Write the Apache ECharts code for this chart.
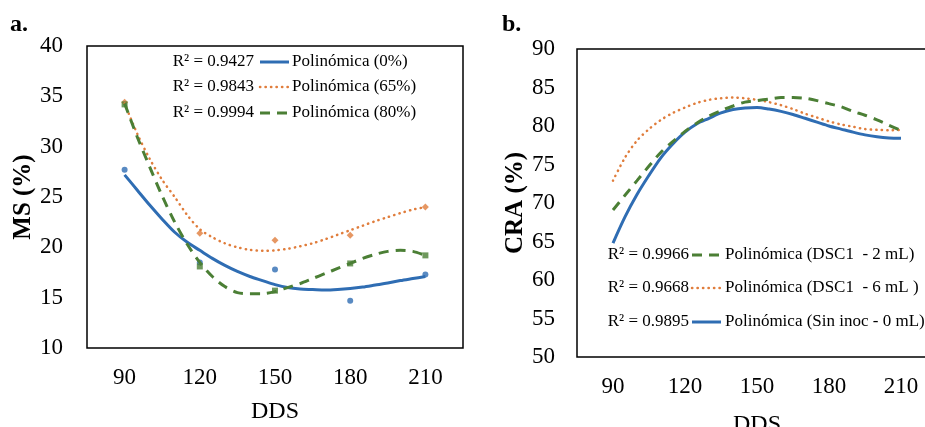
<!DOCTYPE html>
<html>
<head>
<meta charset="utf-8">
<script src="https://cdn.jsdelivr.net/npm/echarts@6/dist/echarts.min.js"></script>
<style>
  html, body { margin: 0; padding: 0; background: #fff; }
  #chart { width: 925px; height: 427px; }
</style>
</head>
<body>
<div id="chart"></div>
<script>
// tick labels
const xTicks = [90, 120, 150, 180, 210];

// a. MS (%) observed points
const dds = [90, 120, 150, 180, 210];
const ms0Obs = [27.7, 18.5, 17.8, 14.7, 17.3];
const ms65Obs = [34.4, 21.4, 20.7, 21.2, 24.0];
const ms80Obs = [34.2, 18.1, 15.7, 18.4, 19.2];

// trend curves, every 5 DDS
const fitX = [90, 95, 100, 105, 110, 115, 120, 125, 130, 135, 140, 145, 150,
  155, 160, 165, 170, 175, 180, 185, 190, 195, 200, 205, 210];
const ms0Fit = [27.2, 25.7, 24.2, 22.8, 21.5, 20.5, 19.7, 18.9, 18.2, 17.6, 17.1, 16.7, 16.3,
  16.0, 15.85, 15.8, 15.75, 15.8, 15.9, 16.05, 16.25, 16.45, 16.7, 16.9, 17.1];
const ms65Fit = [34.3, 31.3, 28.8, 26.7, 25.0, 23.2, 21.8, 21.0, 20.4, 20.0, 19.75, 19.65, 19.7,
  19.85, 20.1, 20.4, 20.8, 21.25, 21.7, 22.15, 22.6, 23.0, 23.4, 23.75, 24.0];
const ms80Fit = [34.3, 31.0, 28.0, 25.1, 22.5, 20.3, 18.5, 17.1, 16.1, 15.5, 15.4, 15.4, 15.6,
  16.0, 16.4, 16.9, 17.4, 17.9, 18.4, 18.9, 19.3, 19.6, 19.7, 19.6, 19.2];

// b. CRA (%) trend curves
const craSin = [64.8, 68.2, 71.1, 73.6, 75.9, 77.7, 79.2, 80.3, 81.0, 81.7, 82.15, 82.35, 82.4,
  82.2, 81.9, 81.5, 81.0, 80.5, 80.0, 79.6, 79.2, 78.85, 78.6, 78.45, 78.4];
const cra6 = [72.9, 75.9, 78.1, 79.6, 80.8, 81.7, 82.4, 83.0, 83.4, 83.6, 83.7, 83.6, 83.4,
  83.1, 82.7, 82.2, 81.6, 81.1, 80.6, 80.2, 79.9, 79.6, 79.5, 79.45, 79.5];
const cra2 = [69.1, 71.0, 72.9, 74.8, 76.6, 78.0, 79.3, 80.4, 81.3, 82.0, 82.6, 83.1, 83.3,
  83.5, 83.7, 83.7, 83.6, 83.3, 82.9, 82.5, 81.9, 81.4, 80.8, 80.1, 79.4];

const namesA = ['Polinómica (0%)', 'Polinómica (65%)', 'Polinómica (80%)'];
const r2A = ['R² = 0.9427', 'R² = 0.9843', 'R² = 0.9994'];
const namesB = ['Polinómica (DSC1  - 2 mL)', 'Polinómica (DSC1  - 6 mL )', 'Polinómica (Sin inoc - 0 mL)'];
const r2B = ['R² = 0.9966', 'R² = 0.9668', 'R² = 0.9895'];

const BLUE = '#2f6db3', ORANGE = '#e07d3c', GREEN = '#4b7f35';
const FONT = '"Liberation Serif", "Times New Roman", serif';
const solid = { type: 'solid', width: 3 };
const dotted = { type: [0.3, 5.2], width: 2.5, cap: 'round' };
const dashed = { type: [10, 7], width: 3 };

function pairs(xs, ys) { return xs.map((x, i) => [x, ys[i]]); }

function xAx(idx) {
  return {
    gridIndex: idx, type: 'value', min: 75, max: 225,
    axisLine: { show: false }, axisTick: { show: false }, splitLine: { show: false },
    axisLabel: { customValues: xTicks, fontSize: 23, color: '#000', fontFamily: FONT, margin: 18 },
    name: 'DDS', nameLocation: 'middle', nameGap: idx === 0 ? 52 : 56,
    nameTextStyle: { fontSize: 24, color: '#000', fontFamily: FONT }
  };
}

function legendItems(rows, r2, names, styles, colors, rEdge, lx1, lx2, tx) {
  const out = [];
  rows.forEach((y, i) => {
    out.push({ type: 'text', style: { text: r2[i], x: rEdge, y: y, font: '17px ' + FONT, fill: '#000', textAlign: 'right', textVerticalAlign: 'middle', align: 'right', verticalAlign: 'middle' } });
    out.push({ type: 'line', shape: { x1: lx1, y1: y, x2: lx2, y2: y }, style: { stroke: colors[i], lineWidth: styles[i].width, lineDash: styles[i].type === 'solid' ? null : styles[i].type, lineCap: styles[i].cap || 'butt' } });
    out.push({ type: 'text', style: { text: names[i], x: tx, y: y, font: '17px ' + FONT, fill: '#000', textAlign: 'left', textVerticalAlign: 'middle', align: 'left', verticalAlign: 'middle' } });
  });
  return out;
}

const chart = echarts.init(document.getElementById('chart'));
const option = {
  animation: false,
  backgroundColor: '#fff',
  textStyle: { fontFamily: FONT },
  grid: [
    { left: 87, top: 46, width: 376, height: 302, show: true, borderColor: '#000', borderWidth: 1.5, outerBoundsMode: 'none' },
    { left: 577, top: 49, width: 360, height: 308, show: true, borderColor: '#000', borderWidth: 1.5, outerBoundsMode: 'none' }
  ],
  xAxis: [xAx(0), xAx(1)],
  yAxis: [
    {
      gridIndex: 0, type: 'value', min: 10, max: 40, interval: 5,
      axisLine: { show: false }, axisTick: { show: false }, splitLine: { show: false },
      axisLabel: { fontSize: 23, color: '#000', fontFamily: FONT, margin: 24 },
      name: 'MS (%)', nameLocation: 'middle', nameGap: 50,
      nameTextStyle: { fontSize: 25, fontWeight: 'bold', color: '#000', fontFamily: FONT }
    },
    {
      gridIndex: 1, type: 'value', min: 50, max: 90, interval: 5,
      axisLine: { show: false }, axisTick: { show: false }, splitLine: { show: false },
      axisLabel: { fontSize: 23, color: '#000', fontFamily: FONT, margin: 22 },
      name: 'CRA (%)', nameLocation: 'middle', nameGap: 45,
      nameTextStyle: { fontSize: 25, fontWeight: 'bold', color: '#000', fontFamily: FONT }
    }
  ],
  graphic: [
    { type: 'text', style: { text: 'a.', x: 10, y: 25, font: 'bold 24px ' + FONT, fill: '#000', textVerticalAlign: 'middle', verticalAlign: 'middle' } },
    { type: 'text', style: { text: 'b.', x: 502, y: 25, font: 'bold 24px ' + FONT, fill: '#000', textVerticalAlign: 'middle', verticalAlign: 'middle' } }
  ].concat(
    legendItems([62, 87, 113], r2A, namesA, [solid, dotted, dashed], [BLUE, ORANGE, GREEN], 254, 260, 289, 292),
    legendItems([255, 288, 322], r2B, namesB, [dashed, dotted, solid], [GREEN, ORANGE, BLUE], 689, 692, 721, 725)
  ),
  series: [
    { type: 'line', name: namesA[0], xAxisIndex: 0, yAxisIndex: 0, data: pairs(fitX, ms0Fit), smooth: 0.3, showSymbol: false, lineStyle: Object.assign({ color: BLUE }, solid) },
    { type: 'line', name: namesA[1], xAxisIndex: 0, yAxisIndex: 0, data: pairs(fitX, ms65Fit), smooth: 0.3, showSymbol: false, lineStyle: Object.assign({ color: ORANGE }, dotted) },
    { type: 'line', name: namesA[2], xAxisIndex: 0, yAxisIndex: 0, data: pairs(fitX, ms80Fit), smooth: 0.3, showSymbol: false, lineStyle: Object.assign({ color: GREEN }, dashed) },
    { type: 'scatter', xAxisIndex: 0, yAxisIndex: 0, data: pairs(dds, ms0Obs), symbol: 'circle', symbolSize: 6, itemStyle: { color: BLUE } },
    { type: 'scatter', xAxisIndex: 0, yAxisIndex: 0, data: pairs(dds, ms65Obs), symbol: 'diamond', symbolSize: 7, itemStyle: { color: ORANGE } },
    { type: 'scatter', xAxisIndex: 0, yAxisIndex: 0, data: pairs(dds, ms80Obs), symbol: 'rect', symbolSize: 6, itemStyle: { color: GREEN } },
    { type: 'line', name: namesB[2], xAxisIndex: 1, yAxisIndex: 1, data: pairs(fitX, craSin), smooth: 0.3, showSymbol: false, lineStyle: Object.assign({ color: BLUE }, solid) },
    { type: 'line', name: namesB[1], xAxisIndex: 1, yAxisIndex: 1, data: pairs(fitX, cra6), smooth: 0.3, showSymbol: false, lineStyle: Object.assign({ color: ORANGE }, dotted) },
    { type: 'line', name: namesB[0], xAxisIndex: 1, yAxisIndex: 1, data: pairs(fitX, cra2), smooth: 0.3, showSymbol: false, lineStyle: Object.assign({ color: GREEN }, dashed) }
  ]
};
chart.setOption(option);
window.addEventListener('resize', function () { chart.resize(); });
</script>
</body>
</html>
